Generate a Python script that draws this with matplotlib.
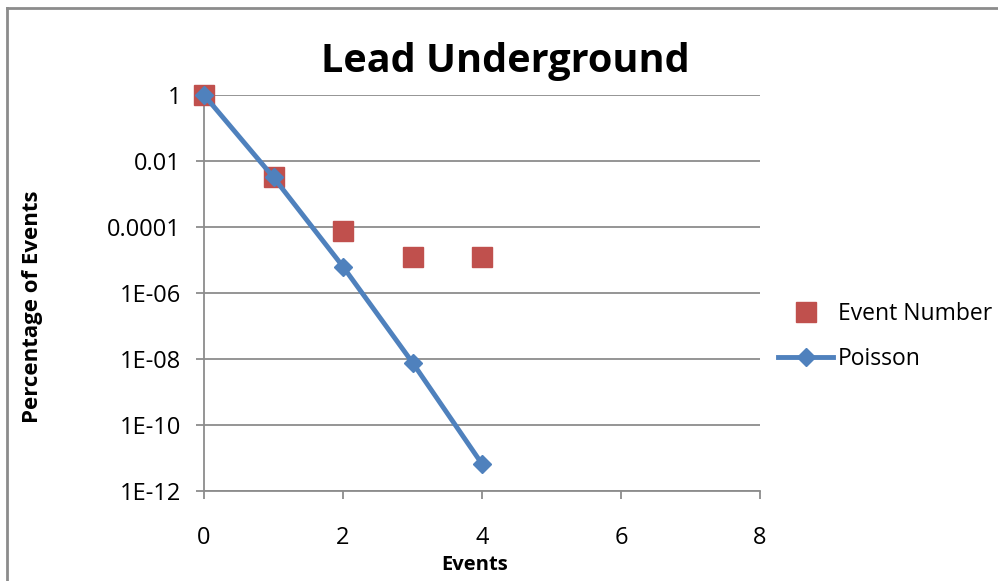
import numpy as np
import matplotlib
matplotlib.use("Agg")
import matplotlib.pyplot as plt
from matplotlib.lines import Line2D

plt.rcParams['font.family'] = ['Open Sans', 'DejaVu Sans']

# measured fraction of events vs. expected Poisson fraction
events = [0, 1, 2, 3, 4]
event_number = [1.0, 3.2e-3, 7.6e-5, 1.26e-5, 1.26e-5]
poisson = [1.0, 3.2e-3, 6.3e-6, 7.8e-9, 6.6e-12]

y_ticks = [1, 1e-2, 1e-4, 1e-6, 1e-8, 1e-10, 1e-12]
y_labels = ['1', '0.01', '0.0001', '1E-06', '1E-08', '1E-10', '1E-12']
x_ticks = [0, 2, 4, 6, 8]

red = '#C0504D'
blue = '#4F81BD'
grid = '#8C8C8C'

W, H = 998, 581
fig = plt.figure(figsize=(W / 100, H / 100), dpi=100)
ax = fig.add_axes([204 / W, 1 - 491 / H, 556 / W, 396 / H])

ax.plot(events, event_number, linestyle='none', marker='s', markersize=14,
        color=red, label='Event Number', zorder=3, clip_on=False)
ax.plot(events, poisson, color=blue, linewidth=3.5, marker='D', markersize=9,
        label='Poisson', zorder=4, clip_on=False)

ax.set_yscale('log')
ax.set_ylim(1e-12, 1)
ax.set_xlim(0, 8)
ax.set_yticks(y_ticks)
ax.set_yticklabels(y_labels)
ax.minorticks_off()
ax.set_xticks(x_ticks)

for s in ['top', 'right']:
    ax.spines[s].set_visible(False)
for s in ['left', 'bottom']:
    ax.spines[s].set_color(grid)
    ax.spines[s].set_linewidth(1.3)
ax.yaxis.grid(True, color=grid, linewidth=1.3)
ax.set_axisbelow(True)
ax.tick_params(axis='both', colors=grid, labelcolor='black', labelsize=17,
               length=5.5, width=1.3)
ax.tick_params(axis='y', pad=11)
ax.tick_params(axis='x', pad=20)

fig.text(475 / W, 1 - 565 / H, 'Events', fontsize=14.5, fontweight='bold',
         ha='center', va='center')
fig.text(33 / W, 1 - 307 / H, 'Percentage of Events', fontsize=16,
         fontweight='bold', rotation=90, ha='center', va='center')

fig.text(505 / W, 1 - 72 / H, 'Lead Underground', fontsize=28.5, fontweight='bold',
         ha='center', va='baseline')

fig.legend(loc='upper left', bbox_to_anchor=(778 / W, 1 - 302 / H),
           frameon=False, fontsize=16.5, handlelength=2.4, handletextpad=0.22,
           labelspacing=0.92, borderpad=0, borderaxespad=0)

# chart area border on the left and top
fig.add_artist(Line2D([7 / W, 7 / W], [0, 1 - 8 / H], color='#8C8C8C',
                      linewidth=2, transform=fig.transFigure))
fig.add_artist(Line2D([7 / W, 1], [1 - 8 / H, 1 - 8 / H], color='#8C8C8C',
                      linewidth=2, transform=fig.transFigure))

fig.savefig('out.png', dpi=100)
